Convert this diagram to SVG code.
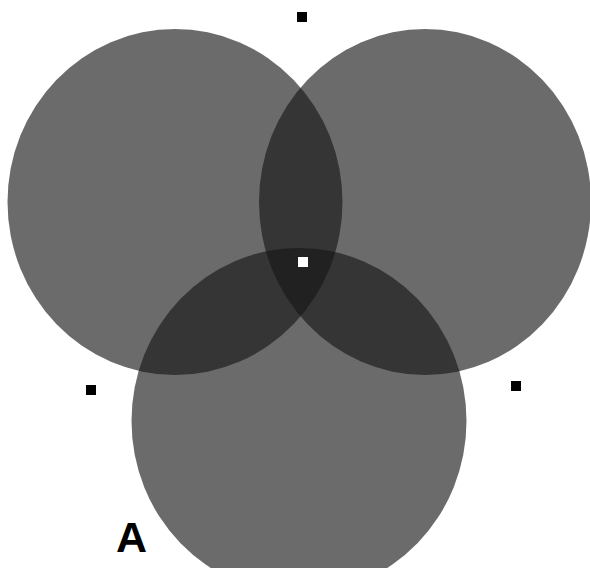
<svg xmlns="http://www.w3.org/2000/svg" width="590" height="568" viewBox="0 0 590 568">
<style>
.c{fill:#161616;fill-opacity:0.635}
.m{fill:#000}
</style>
<rect width="590" height="568" fill="#fff"/>
<g id="circleLeft"><ellipse class="c" cx="175" cy="202" rx="167.5" ry="173"/></g>
<g id="circleRight"><ellipse class="c" cx="425" cy="202" rx="166" ry="173"/></g>
<g id="circleBottom"><ellipse class="c" cx="299" cy="421" rx="167.5" ry="173"/></g>
<g id="markers">
<rect class="m" x="297" y="12" width="10" height="10"/>
<rect class="m" x="86" y="385" width="10" height="10"/>
<rect class="m" x="511" y="381" width="10" height="10"/>
<rect fill="#fff" x="298" y="257" width="10" height="10"/>
</g>
<text x="116" y="552" font-family="Liberation Sans, Arial, sans-serif" font-weight="bold" font-size="43" fill="#000">A</text>
</svg>
